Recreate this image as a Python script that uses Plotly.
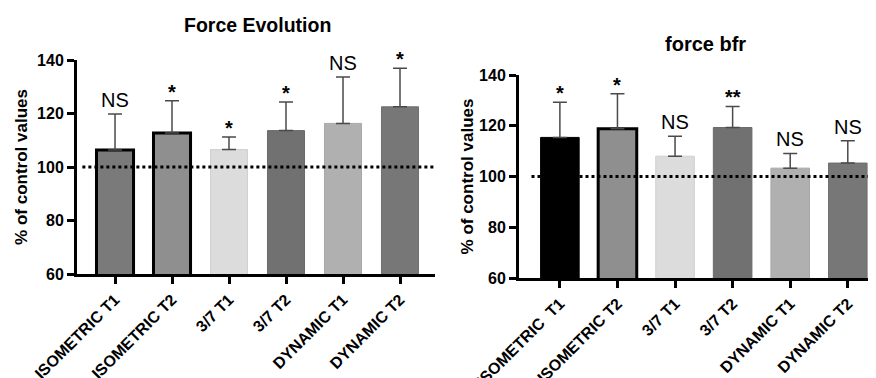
import plotly.graph_objects as go

categories = ["ISOMETRIC T1", "ISOMETRIC T2", "3/7 T1", "3/7 T2", "DYNAMIC T1", "DYNAMIC T2"]
right_categories = ["ISOMETRIC  T1", "ISOMETRIC T2", "3/7 T1", "3/7 T2", "DYNAMIC T1", "DYNAMIC T2"]

evolution_mean = [106.4, 112.7, 106.5, 113.6, 116.3, 122.5]
evolution_sd = [13.4, 12.1, 4.7, 10.7, 17.3, 14.4]
evolution_sig = ["NS", "*", "*", "*", "NS", "*"]

bfr_mean = [115.4, 118.8, 108.0, 119.3, 103.3, 105.3]
bfr_sd = [13.9, 13.8, 7.9, 8.3, 5.8, 8.8]
bfr_sig = ["*", "*", "NS", "**", "NS", "NS"]

reference_level = 100
y_ticks = [60, 80, 100, 120, 140]

left_fill = ["#7a7a7a", "#8f8f8f", "#dcdcdc", "#717171", "#b0b0b0", "#777777"]
left_line = ["#000000", "#000000", "#cfcfcf", "#6a6a6a", "#a8a8a8", "#707070"]
left_lw = [3, 3, 1, 1, 1, 1]
right_fill = ["#000000", "#8f8f8f", "#dcdcdc", "#717171", "#b0b0b0", "#777777"]
right_line = ["#000000", "#000000", "#cfcfcf", "#6a6a6a", "#a8a8a8", "#707070"]
right_lw = [1, 3, 1, 1, 1, 1]

FONT = "Liberation Sans, Arial, Helvetica, sans-serif"

# page body has an 8px margin; figure is sized to fill the remaining window
W, H, OFF = 868, 370, 8
def fx(px):
    return (px - OFF) / W
def fy(py):
    return 1 - (py - OFF) / H

fig = go.Figure()

fig.add_trace(go.Bar(
    x=categories, y=evolution_mean, xaxis="x", yaxis="y", width=0.65,
    marker=dict(color=left_fill, line=dict(color=left_line, width=left_lw)),
    error_y=dict(type="data", array=evolution_sd, arrayminus=[0]*6, symmetric=False,
                 color="#4a4a4a", thickness=1.5, width=7),
    showlegend=False))

fig.add_trace(go.Bar(
    x=right_categories, y=bfr_mean, xaxis="x2", yaxis="y2", width=0.67,
    marker=dict(color=right_fill, line=dict(color=right_line, width=right_lw)),
    error_y=dict(type="data", array=bfr_sd, arrayminus=[0]*6, symmetric=False,
                 color="#4a4a4a", thickness=1.5, width=7),
    showlegend=False))

axis_common = dict(showline=True, linecolor="black", linewidth=3, ticks="outside",
                   ticklen=7, tickwidth=3, tickcolor="black", showgrid=False, zeroline=False,
                   automargin=False)
ytickfont = dict(family=FONT, size=16, color="black", weight="bold")
xtickfont = dict(family=FONT, size=16, color="black", weight="bold")
ytitlefont = dict(family=FONT, size=17, color="black", weight="bold")

fig.update_layout(
    width=W, height=H, margin=dict(l=0, r=0, t=0, b=0),
    plot_bgcolor="white", paper_bgcolor="white",
    xaxis=dict(domain=[fx(77), fx(435)], anchor="y", range=[-0.667, 5.614],
               tickangle=-45, tickfont=xtickfont, **axis_common),
    yaxis=dict(domain=[fy(274), fy(60)], anchor="x", range=[60, 140], tickvals=y_ticks,
               tickfont=ytickfont,
               title=dict(text="% of control values", font=ytitlefont, standoff=6),
               **axis_common),
    xaxis2=dict(domain=[fx(519), 1.0], anchor="y2", range=[-0.71, 5.49],
                tickangle=-45, tickfont=xtickfont, **axis_common),
    yaxis2=dict(domain=[fy(278), fy(75)], anchor="x2", range=[60, 140], tickvals=y_ticks,
                tickfont=ytickfont,
                title=dict(text="% of control values", font=ytitlefont, standoff=2),
                **axis_common),
)

fig.add_shape(type="line", xref="x domain", yref="y", x0=0.015, x1=1.0,
              y0=reference_level, y1=reference_level, line=dict(color="black", width=3, dash="dot"))
fig.add_shape(type="line", xref="x2 domain", yref="y2", x0=0.035, x1=1.0,
              y0=reference_level, y1=reference_level, line=dict(color="black", width=3, dash="dot"))

def add_sig(xref, yref, cats, means, sds, sigs):
    for c, m, s, t in zip(cats, means, sds, sigs):
        star = "*" in t
        fig.add_annotation(x=c, y=m + s, xref=xref, yref=yref, text=t, showarrow=False,
                           xanchor="center", yanchor="bottom", yshift=-4 if star else 1,
                           font=dict(family=FONT, size=20, color="black",
                                     weight="bold" if star else "normal"))

add_sig("x", "y", categories, evolution_mean, evolution_sd, evolution_sig)
add_sig("x2", "y2", right_categories, bfr_mean, bfr_sd, bfr_sig)

fig.add_annotation(text="Force Evolution", x=fx(257), y=fy(25), xref="paper", yref="paper",
                   xanchor="center", yanchor="middle", showarrow=False,
                   font=dict(family=FONT, size=19.5, color="black", weight="bold"))
fig.add_annotation(text="force bfr", x=fx(705), y=fy(44), xref="paper", yref="paper",
                   xanchor="center", yanchor="middle", showarrow=False,
                   font=dict(family=FONT, size=20, color="black", weight="bold"))

fig.write_html("out.html")
